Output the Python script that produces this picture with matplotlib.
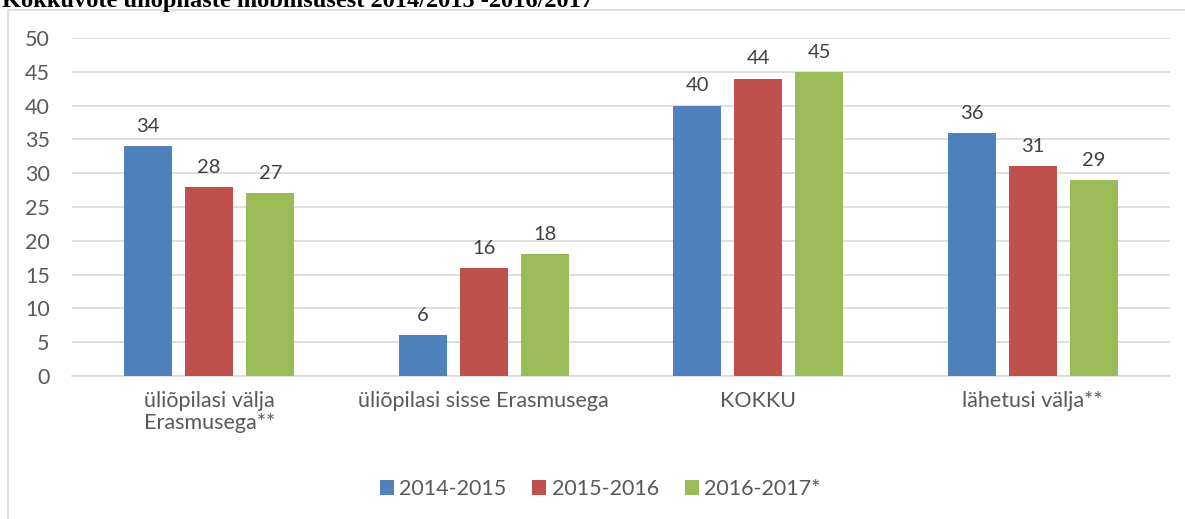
import matplotlib.pyplot as plt
from matplotlib.lines import Line2D
import numpy as np

# Andmed
categories = ["üliõpilasi välja\nErasmusega**", "üliõpilasi sisse Erasmusega", "KOKKU", "lähetusi välja**"]
series_names = ["2014-2015", "2015-2016", "2016-2017*"]
values_2014 = [34, 6, 40, 36]
values_2015 = [28, 16, 44, 31]
values_2016 = [27, 18, 45, 29]
colors = ["#4F81BD", "#C0504D", "#9BBB59"]
yticks = [0, 5, 10, 15, 20, 25, 30, 35, 40, 45, 50]

plt.rcParams["font.family"] = ["Lato", "DejaVu Sans"]
W, H = 1185, 519
fig = plt.figure(figsize=(W / 100, H / 100), dpi=100)

# pealkiri (ülevalt pooleldi ära lõigatud)
fig.text(2 / W, 1 - 7 / H, "Kokkuvõte üliõpilaste mobiilsusest 2014/2015 -2016/2017",
         family="Liberation Serif", fontweight="bold", fontsize=17.6, color="black",
         ha="left", va="baseline")

# diagrammi raam
fig.add_artist(Line2D([8 / W, 8 / W], [0, 1 - 10 / H], transform=fig.transFigure, color="#D9D9D9", lw=1.2))
fig.add_artist(Line2D([8 / W, 1], [1 - 10 / H, 1 - 10 / H], transform=fig.transFigure, color="#D9D9D9", lw=1.2))

ax = fig.add_axes([72 / W, 143 / H, 1098 / W, 338 / H])
x = np.arange(len(categories))
width = 0.175
step = 0.222
for i, (name, vals) in enumerate(zip(series_names, [values_2014, values_2015, values_2016])):
    bars = ax.bar(x + (i - 1) * step, vals, width, color=colors[i], label=name, zorder=3)
    ax.bar_label(bars, padding=8, fontsize=14.5, color="#404040")

ax.set_xlim(-0.5, len(categories) - 0.5)
ax.set_ylim(0, 50)
ax.set_yticks(yticks)
ax.set_xticks(x)
ax.set_xticklabels(categories, fontsize=15.5, color="#595959", linespacing=1.1)
ax.tick_params(axis="y", labelsize=15.5, labelcolor="#595959", length=0, pad=16)
ax.tick_params(axis="x", length=0, pad=11)
ax.grid(axis="y", color="#D9D9D9", lw=1.2, zorder=0)
for s in ["top", "right", "left"]:
    ax.spines[s].set_visible(False)
ax.spines["bottom"].set_color("#D9D9D9")
ax.spines["bottom"].set_linewidth(1.2)

fig.legend(loc="center", bbox_to_anchor=(600 / W, 1 - 489 / H), ncol=3, frameon=False,
           fontsize=15.5, labelcolor="#595959", handlelength=0.65, handleheight=0.65,
           handletextpad=0.25, columnspacing=1.2)

fig.savefig("out.png", dpi=100)
